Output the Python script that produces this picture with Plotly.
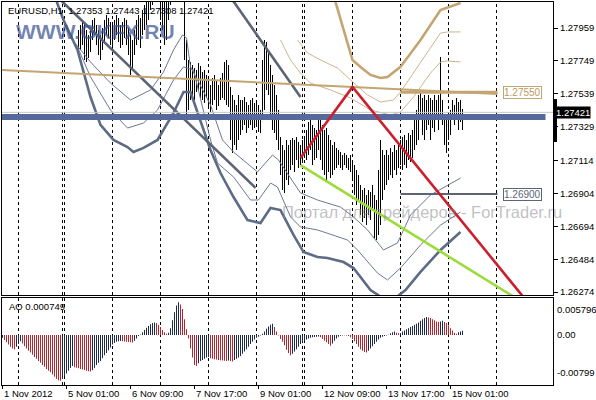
import plotly.graph_objects as go

# ---------------- data ----------------
x_tick_bars = [1, 33, 65, 97, 129, 161, 193, 225]
x_tick_labels = ["1 Nov 2012", "5 Nov 01:00", "6 Nov 09:00", "7 Nov 17:00",
                 "9 Nov 01:00", "12 Nov 09:00", "13 Nov 17:00", "15 Nov 01:00"]
day_sep_bars = [9, 31, 32, 56, 80, 104, 128, 151, 152, 176, 200, 224, 248]
price_ticks = [1.27959, 1.27749, 1.27539, 1.27329, 1.27114, 1.26904, 1.26694, 1.26484, 1.26274]
ao_labels = [(0.005796, "0.005796"), (0.0, "0.00"), (-0.00799, "-0.00799")]

bar_start = 39
highs = [
    1.27947, 1.27979, 1.28010, 1.27998, 1.27947, 1.27915, 1.27959, 1.28010, 1.28023, 1.27979,
    1.27947, 1.27915, 1.27959, 1.28010, 1.28042, 1.28023, 1.27998, 1.27979, 1.28010, 1.28042,
    1.28023, 1.27979, 1.27998, 1.28023, 1.28010, 1.27959, 1.27915, 1.27883, 1.27947, 1.28010,
    1.28042, 1.28023, 1.28074, 1.28106, 1.28202, 1.28234, 1.28266, 1.28298, 1.28329, 1.28361,
    1.28329, 1.28298, 1.28266, 1.28234, 1.28266, 1.28329, 1.28393, 1.28521, 1.28648, 1.28776,
    1.28712, 1.28585, 1.28457, 1.28202, 1.27883, 1.27755, 1.27742, 1.27723, 1.27704, 1.27691,
    1.27736, 1.27717, 1.27679, 1.27691, 1.27660, 1.27628, 1.27596, 1.27640, 1.27660, 1.27628,
    1.27596, 1.27640, 1.27672, 1.27742, 1.27755, 1.27723, 1.27583, 1.27532, 1.27500, 1.27468,
    1.27532, 1.27500, 1.27500, 1.27519, 1.27487, 1.27468, 1.27500, 1.27513, 1.27481, 1.27500,
    1.27468, 1.27436, 1.27755, 1.27883, 1.27870, 1.27819, 1.27723, 1.27660, 1.27596, 1.27532,
    1.27436, 1.27264, 1.27213, 1.27181, 1.27245, 1.27213, 1.27245, 1.27258, 1.27245, 1.27264,
    1.27232, 1.27213, 1.27245, 1.27258, 1.27309, 1.27360, 1.27372, 1.27341, 1.27321, 1.27309,
    1.27391, 1.27372, 1.27341, 1.27309, 1.27321, 1.27277, 1.27245, 1.27213, 1.27232, 1.27194,
    1.27181, 1.27168, 1.27149, 1.27162, 1.27149, 1.27130, 1.27149, 1.27117, 1.27085, 1.27053,
    1.27021, 1.26958, 1.26926, 1.26939, 1.26894, 1.26926, 1.26913, 1.26958, 1.26894, 1.26862,
    1.27053, 1.27245, 1.27181, 1.27149, 1.27181, 1.27149, 1.27194, 1.27168, 1.27213, 1.27181,
    1.27232, 1.27245, 1.27264, 1.27277, 1.27245, 1.27289, 1.27277, 1.27309, 1.27372, 1.27436,
    1.27532, 1.27545, 1.27513, 1.27532, 1.27500, 1.27532, 1.27513, 1.27500, 1.27532, 1.27500,
    1.27532, 1.27774, 1.27500, 1.27404, 1.27372, 1.27385, 1.27436, 1.27500, 1.27468, 1.27513,
    1.27487, 1.27500, 1.27443]
lows = [
    1.27787, 1.27819, 1.27851, 1.27755, 1.27742, 1.27768, 1.27806, 1.27883, 1.27915, 1.27851,
    1.27787, 1.27755, 1.27819, 1.27870, 1.27915, 1.27896, 1.27851, 1.27819, 1.27883, 1.27915,
    1.27870, 1.27832, 1.27851, 1.27896, 1.27851, 1.27787, 1.27660, 1.27691, 1.27787, 1.27851,
    1.27883, 1.27832, 1.27915, 1.27947, 1.27979, 1.28010, 1.28074, 1.28106, 1.28138, 1.28170,
    1.28138, 1.28010, 1.27947, 1.27851, 1.27883, 1.28010, 1.28106, 1.28202, 1.28266, 1.28329,
    1.28298, 1.28202, 1.28138, 1.27755, 1.27360, 1.27436, 1.27500, 1.27532, 1.27500, 1.27551,
    1.27564, 1.27513, 1.27500, 1.27481, 1.27513, 1.27449, 1.27423, 1.27468, 1.27500, 1.27436,
    1.27462, 1.27500, 1.27513, 1.27500, 1.27468, 1.27455, 1.27245, 1.27162, 1.27213, 1.27181,
    1.27245, 1.27277, 1.27309, 1.27341, 1.27289, 1.27321, 1.27341, 1.27309, 1.27321, 1.27341,
    1.27296, 1.27289, 1.27391, 1.27436, 1.27564, 1.27532, 1.27372, 1.27309, 1.27289, 1.27245,
    1.27181, 1.27021, 1.26926, 1.26907, 1.26990, 1.26958, 1.27053, 1.27085, 1.27041, 1.27117,
    1.27066, 1.27085, 1.27117, 1.27130, 1.27117, 1.27149, 1.27181, 1.27085, 1.27117, 1.27130,
    1.27181, 1.27117, 1.27053, 1.27021, 1.26990, 1.27041, 1.27002, 1.27021, 1.27053, 1.27066,
    1.27085, 1.27066, 1.27053, 1.27085, 1.27066, 1.27053, 1.27041, 1.27002, 1.26894, 1.26830,
    1.26862, 1.26766, 1.26722, 1.26747, 1.26702, 1.26766, 1.26734, 1.26798, 1.26620, 1.26607,
    1.26639, 1.26702, 1.26862, 1.26926, 1.26958, 1.26990, 1.27021, 1.27002, 1.27053, 1.27021,
    1.27066, 1.27085, 1.27053, 1.27085, 1.27066, 1.27117, 1.27104, 1.27130, 1.27181, 1.27213,
    1.27245, 1.27372, 1.27277, 1.27245, 1.27309, 1.27341, 1.27245, 1.27321, 1.27296, 1.27372,
    1.27309, 1.27372, 1.27341, 1.27213, 1.27162, 1.27245, 1.27277, 1.27372, 1.27341, 1.27385,
    1.27309, 1.27360, 1.27308]

# Awesome Oscillator, in units of 1e-4, bars 1..231
ao_e4 = [
    -5, -9, -13, -17, -21, -24, -25, -21, -16, -11,
    -15, -20, -24, -28, -31, -35, -39, -42, -46, -49,
    -53, -56, -60, -63, -66, -70, -74, -78, -80, -81,
    -78, -73, -68, -63, -58, -55, -57, -58, -59, -60,
    -61, -62, -63, -64, -64.5, -62, -58, -53, -49, -46,
    -41, -36, -32, -27, -22, -17, -14, -12, -11, -10.5,
    -11, -11.5, -12, -12.5, -13, -13.5, -10, -6, -2, 1,
    5, 9, 13, 16, 19, 21, 22, 21, 18, 14,
    9, 5, 2, 4, 12, 26, 40, 52, 58, 54,
    46, 28, 10, -6, -24, -40, -53, -55, -50, -46,
    -44, -42, -40, -39, -41, -42, -43, -43.5, -44, -44.5,
    -45, -45.5, -46, -45, -46, -47, -44, -42, -40, -37,
    -33, -29, -25, -21, -16, -12, -8, -5, -3, -1,
    2, 6, 11, 15, 18, 20, 14, 6, -1, -7,
    -12, -18, -26, -32, -36, -33, -29, -25, -21, -16,
    -12, -10, -8, -6, -5, -4, -3.5, -3, -2.5, -4,
    -7, -10, -13, -16, -19, -15, -10, -6, -3, -1.5,
    -1, -0.5, -1, -2, -4, -7, -11, -16, -21, -25,
    -28, -30, -31, -28, -24, -20, -16, -12, -8, -5,
    -3, -2, -1, 0.5, 3, 5, 6, 4, 3, 3.5,
    6, 8, 10, 12, 14, 16, 18, 20, 22, 25,
    28, 30, 32, 31, 30, 28, 26, 24, 23, 24,
    25, 23, 21, 17, 12, 8, 4, 2, 5, 6,
    7.49]

# band lines (bar index, price)
low_thick_x = [25, 31.5, 38.5, 45, 50, 56.5, 63.5, 66.5, 71.5, 78.5, 86.5, 91.5, 95, 100, 105, 110, 116.5,
               123.5, 130, 135, 140, 146.5, 151.5, 158.5, 163.5, 171.5, 176.5, 185, 191, 197.5, 202.5,
               210, 220, 230]
low_thick_y = [1.28234, 1.28010, 1.27819, 1.27519, 1.27341, 1.27245, 1.27200, 1.27168, 1.27194, 1.27245,
               1.27417, 1.27551, 1.27551, 1.27372, 1.27181, 1.27034, 1.26881, 1.26734, 1.26715, 1.26811,
               1.26798, 1.26639, 1.26530, 1.26498, 1.26492, 1.26466, 1.26428, 1.26288, 1.26237, 1.26237,
               1.26288, 1.26403, 1.26543, 1.26658]
low_thin1_x = [36, 45, 55, 65, 75, 81.5, 86.5, 91, 93, 95, 98.5, 105, 111, 116.5, 128.5, 136, 139, 150,
               158.5, 170, 176.5, 183.5, 191.5, 198.5, 205, 215, 230]
low_thin1_y = [1.27883, 1.27742, 1.27608, 1.27500, 1.27564, 1.27679, 1.27819, 1.27915, 1.27896, 1.27711,
               1.27628, 1.27468, 1.27245, 1.27168, 1.27041, 1.27149, 1.27117, 1.26907, 1.26862, 1.26817,
               1.26754, 1.26671, 1.26543, 1.26588, 1.26766, 1.26894, 1.27002]
low_thin2_x = [38.5, 45, 55, 63.5, 71.5, 78.5, 86.5, 91.5, 96.5, 100, 105, 108.5, 116.5, 125, 129, 135,
               138.5, 145, 150, 158.5, 166.5, 173.5, 178.5, 188.5, 193.5, 200, 210, 220, 230]
low_thin2_y = [1.27838, 1.27647, 1.27436, 1.27321, 1.27353, 1.27436, 1.27628, 1.27711, 1.27691, 1.27500,
               1.27245, 1.27098, 1.27009, 1.26862, 1.26862, 1.26970, 1.26945, 1.26754, 1.26690, 1.26671,
               1.26639, 1.26607, 1.26543, 1.26396, 1.26352, 1.26428, 1.26575, 1.26702, 1.26785]
up_thick_x = [165, 170, 173.5, 176, 180, 185, 190, 193.5, 200, 210, 220, 230]
up_thick_y = [1.28234, 1.28010, 1.27851, 1.27755, 1.27711, 1.27660, 1.27640, 1.27647, 1.27711, 1.27883,
              1.28074, 1.28119]
up_thinA_x = [148.5, 153.5, 160, 168.5, 175, 183.5, 190, 196.5, 200, 210, 220, 223.5, 230]
up_thinA_y = [1.27883, 1.27800, 1.27755, 1.27704, 1.27628, 1.27532, 1.27487, 1.27500, 1.27551, 1.27736,
              1.27927, 1.27934, 1.27934]
up_thinB_x = [140, 145, 150, 155, 165, 175, 185, 195, 200, 206.5, 215, 220, 223.5, 230]
up_thinB_y = [1.27883, 1.27755, 1.27672, 1.27608, 1.27564, 1.27513, 1.27436, 1.27404, 1.27423, 1.27519,
              1.27672, 1.27742, 1.27749, 1.27742]

# drawn objects
trend_a = ([30, 127.5], [1.28138, 1.26939])
trend_b = ([116, 150], [1.28138, 1.27519])
trend_tan = ([0, 248.5], [1.27691, 1.27538])
hline_tan = ([200, 248.5], 1.27550)
hline_slate = ([200, 248.5], 1.26900)
hline_blue = ([0, 272.5], 1.27391)
bid_price = 1.27421
red_line = ([150, 176, 261], [1.27130, 1.27583, 1.26250])
green_line = ([150, 260], [1.27085, 1.26218])

# ---------------- figure ----------------
TAN = "#C4A572"
TAN_THIN = "#CDB68C"
SLATE = "#5D6B86"
SLATE_THIN = "#6E7892"
GRAY = "#5C6476"
BLUE = "#56699C"
FONT = "Liberation Sans"
X_RANGE = [0.75, 276.25]

fig = go.Figure()

def line(xs, ys, color, width, axis="y"):
    fig.add_trace(go.Scatter(x=xs, y=ys, mode="lines", line=dict(color=color, width=width),
                             hoverinfo="skip", showlegend=False, yaxis=axis))

line(low_thick_x, low_thick_y, SLATE, 2.6)
line(low_thin1_x, low_thin1_y, SLATE_THIN, 1)
line(low_thin2_x, low_thin2_y, SLATE_THIN, 1)
line(up_thick_x, up_thick_y, TAN, 2.6)
line(up_thinA_x, up_thinA_y, TAN_THIN, 1)
line(up_thinB_x, up_thinB_y, TAN_THIN, 1)

bars_x = list(range(bar_start, bar_start + len(highs)))
fig.add_trace(go.Bar(x=bars_x, y=[h - l for h, l in zip(highs, lows)], base=lows, width=0.5,
                     marker=dict(color="black", line=dict(width=0)), hoverinfo="skip",
                     showlegend=False, xaxis="x", yaxis="y"))

line(trend_a[0], trend_a[1], GRAY, 2.6)
line(trend_b[0], trend_b[1], GRAY, 2.6)
line(trend_tan[0], trend_tan[1], TAN, 2)
line(hline_tan[0], [hline_tan[1]] * 2, TAN, 3)
line(hline_slate[0], [hline_slate[1]] * 2, GRAY, 2)
line(X_RANGE, [bid_price] * 2, "#C8C8C8", 1)
line(hline_blue[0], [hline_blue[1]] * 2, BLUE, 6)
line(red_line[0], red_line[1], "#CC1F2E", 2.6)
line(green_line[0], green_line[1], "#9CDC3A", 2.6)

# AO histogram
ao = [v * 1e-4 for v in ao_e4]
ao_x = list(range(1, len(ao) + 1))
ao_colors = ["#1E2A4A" if i == 0 or ao[i] > ao[i - 1] else "#B3262E" for i in range(len(ao))]
fig.add_trace(go.Bar(x=ao_x, y=ao, width=0.5, marker=dict(color=ao_colors, line=dict(width=0)),
                     hoverinfo="skip", showlegend=False, xaxis="x2", yaxis="y2"))

# day separators
for b in day_sep_bars:
    fig.add_shape(type="line", xref="x", yref="paper", x0=b, x1=b, y0=0, y1=1,
                  line=dict(color="black", width=1, dash="3px,3px"), layer="below")

ann = []
for b, t in zip(x_tick_bars, x_tick_labels):
    ann.append(dict(x=b, y=0, xref="x2", yref="paper", text=t, showarrow=False, xanchor="left",
                    yanchor="top", yshift=-1, xshift=-1, font=dict(family=FONT, size=9.5, color="black")))
for v, t in ao_labels:
    ya = "top" if v > 0 else ("bottom" if v < 0 else "middle")
    ann.append(dict(x=1, y=v, xref="paper", yref="y2", text=t, showarrow=False, xanchor="left",
                    yanchor=ya, xshift=2, font=dict(family=FONT, size=9.5, color="black")))
ann.append(dict(x=1, y=bid_price, xref="paper", yref="y", text="1.27421", showarrow=False,
                xanchor="left", yanchor="middle", xshift=2, bgcolor="black", borderpad=0,
                font=dict(family=FONT, size=9.5, color="white")))
ann.append(dict(x=261, y=hline_tan[1], xref="x", yref="y", text="1.27550", showarrow=False,
                bgcolor="white", bordercolor=TAN, borderwidth=1, borderpad=0,
                font=dict(family=FONT, size=10, color="#B89A66")))
ann.append(dict(x=261, y=hline_slate[1], xref="x", yref="y", text="1.26900", showarrow=False,
                bgcolor="white", bordercolor=GRAY, borderwidth=1, borderpad=0,
                font=dict(family=FONT, size=10, color=GRAY)))
ann.append(dict(x=0.007, y=0.979, xref="paper", yref="paper", xanchor="left", yanchor="middle",
                text="EURUSD,H1  1.27353 1.27443 1.27308 1.27421", showarrow=False,
                font=dict(family=FONT, size=9.5, color="black")))
ann.append(dict(x=0.009, y=0.2037, xref="paper", yref="paper", xanchor="left", yanchor="middle",
                text="AO 0.000749", showarrow=False, font=dict(family=FONT, size=9.5, color="black")))
ann.append(dict(x=0.0218, y=0.924, xref="paper", yref="paper", xanchor="left", yanchor="middle",
                text="<b>WWW.GKFX.RU</b>", showarrow=False,
                font=dict(family=FONT, size=21, color="rgba(60,85,145,0.72)")))
ann.append(dict(x=0.5045, y=0.4517, xref="paper", yref="paper", xanchor="left", yanchor="middle",
                text="Портал для трейдеров - ForTrader.ru", showarrow=False,
                font=dict(family=FONT, size=16.5, color="rgba(140,140,140,0.55)")))

# price scale marker
fig.add_shape(type="rect", xref="paper", yref="y", x0=1.0, x1=1.0 + 4 / 551, y0=1.27232, y1=1.27506,
              fillcolor="black", line=dict(width=0))

axis_common = dict(showgrid=False, zeroline=False, showline=True, mirror=True, linecolor="black",
                   linewidth=1)
fig.update_layout(
    width=596, height=400, autosize=False,
    margin=dict(l=2, r=43, t=2, b=15),
    paper_bgcolor="white", plot_bgcolor="white",
    showlegend=False, barmode="overlay",
    xaxis=dict(domain=[0, 1], range=X_RANGE, anchor="y", showticklabels=False, ticks="",
               **axis_common),
    yaxis=dict(domain=[0.235, 1], range=[1.26256, 1.28125], side="right", anchor="x",
               tickvals=price_ticks, ticktext=["%.5f" % v for v in price_ticks], ticks="outside",
               ticklen=4, tickcolor="black",
               tickfont=dict(family=FONT, size=9.5, color="black"), **axis_common),
    xaxis2=dict(domain=[0, 1], range=X_RANGE, anchor="y2", matches="x", tickvals=x_tick_bars,
                ticks="outside", ticklen=3, tickcolor="black", showticklabels=False, **axis_common),
    yaxis2=dict(domain=[0, 0.2272], range=[-0.00884, 0.00654], side="right", anchor="x2",
                showticklabels=False, ticks="", **axis_common),
    annotations=ann,
)

fig.write_html("out.html", config={"displayModeBar": False, "staticPlot": True},
               post_script="document.body.style.margin='0';document.body.style.padding='0';")
